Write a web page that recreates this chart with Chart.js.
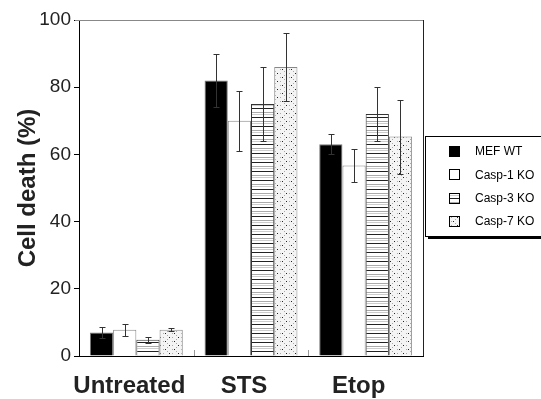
<!DOCTYPE html>
<html>
<head>
<meta charset="utf-8">
<script src="https://cdn.jsdelivr.net/npm/chart.js@4/dist/chart.umd.min.js"></script>
<style>
  html, body { margin: 0; padding: 0; background: #fff; }
  #wrap { width: 541px; height: 399px; }
</style>
</head>
<body>
<div id="wrap"><canvas id="ChartContainer" width="541" height="399"></canvas></div>
<script>
// data
var categories = ['Untreated', 'STS', 'Etop'];
var seriesNames = ['MEF WT', 'Casp-1 KO', 'Casp-3 KO', 'Casp-7 KO'];
var mefWT = [7, 82, 63];
var mefWTErr = [1.5, 8, 3];
var casp1 = [7.8, 70, 56.7];
var casp1Err = [1.8, 9, 5];
var casp3 = [4.8, 75, 72];
var casp3Err = [1, 11, 8];
var casp7 = [7.8, 86, 65.3];
var casp7Err = [0.5, 10, 11];
var yTicks = [0, 20, 40, 60, 80, 100];

var FONT = '"Liberation Sans", Arial, sans-serif';

function makePattern(w, h, draw) {
    var c = document.createElement('canvas');
    c.width = w;
    c.height = h;
    var g = c.getContext('2d');
    g.fillStyle = '#fff';
    g.fillRect(0, 0, w, h);
    draw(g);
    return document.getElementById('ChartContainer').getContext('2d').createPattern(c, 'repeat');
}

var stripes = makePattern(4, 9, function (g) {
    g.fillStyle = '#222';
    g.fillRect(0, 0, 4, 1);
    g.fillStyle = '#aaa';
    g.fillRect(0, 4, 4, 1);
    g.fillStyle = '#ccc';
    g.fillRect(0, 6, 4, 1);
});

var dots = makePattern(9, 8, function (g) {
    g.fillStyle = '#f4f4f4';
    g.fillRect(0, 0, 9, 8);
    g.fillStyle = '#aaa';
    g.fillRect(1, 1, 1, 1);
    g.fillRect(5, 3, 1, 1);
    g.fillRect(1, 5, 1, 1);
    g.fillRect(5, 7, 1, 1);
    g.fillStyle = '#222';
    g.fillRect(7, 1, 1, 1);
    g.fillRect(3, 5, 1, 1);
});

var values = [mefWT, casp1, casp3, casp7];
var errors = [mefWTErr, casp1Err, casp3Err, casp7Err];
var fills = ['#000', '#fff', stripes, dots];
var borders = ['#777', '#888', '#333', '#888'];

var datasets = [];
for (var i = 0; i < seriesNames.length; i++) {
    datasets.push({
        label: seriesNames[i],
        data: values[i],
        errors: errors[i],
        backgroundColor: fills[i],
        borderColor: borders[i],
        borderWidth: 1,
        borderSkipped: 'bottom',
        categoryPercentage: 0.81,
        barPercentage: 1.0
    });
}

// error bars drawn from the bar elements and the y scale
var errorBars = {
    id: 'errorBars',
    afterDatasetsDraw: function (chart) {
        var ctx = chart.ctx;
        var y = chart.scales.y;
        ctx.save();
        ctx.strokeStyle = '#333';
        ctx.lineWidth = 1;
        chart.data.datasets.forEach(function (ds, di) {
            chart.getDatasetMeta(di).data.forEach(function (bar, j) {
                var v = ds.data[j], e = ds.errors[j];
                var x = Math.round(bar.x) + 0.5;
                var top = Math.round(y.getPixelForValue(v + e)) + 0.5;
                var bot = Math.round(y.getPixelForValue(v - e)) + 0.5;
                ctx.beginPath();
                ctx.moveTo(x, top); ctx.lineTo(x, bot);
                ctx.moveTo(x - 3, top); ctx.lineTo(x + 3, top);
                ctx.moveTo(x - 3, bot); ctx.lineTo(x + 3, bot);
                ctx.stroke();
            });
        });
        ctx.restore();
    }
};

// frame, category separators and the boxed legend
var frame = {
    id: 'frame',
    afterDraw: function (chart) {
        var ctx = chart.ctx;
        var a = chart.chartArea;
        var xs = chart.scales.x;
        ctx.save();
        ctx.lineWidth = 1;
        ctx.strokeStyle = '#888';
        ctx.beginPath();
        ctx.moveTo(a.left - 4, a.top + 0.5);
        ctx.lineTo(a.right, a.top + 0.5);
        ctx.stroke();
        ctx.strokeStyle = '#222';
        ctx.beginPath();
        ctx.moveTo(a.right + 0.5, a.top);
        ctx.lineTo(a.right + 0.5, a.bottom);
        ctx.stroke();
        ctx.strokeStyle = '#999';
        for (var k = 0; k < categories.length - 1; k++) {
            var px = Math.round((xs.getPixelForValue(k) + xs.getPixelForValue(k + 1)) / 2) + 0.5;
            ctx.beginPath();
            ctx.moveTo(px, a.bottom);
            ctx.lineTo(px, a.bottom - 6);
            ctx.stroke();
        }

        var bx = 425, by = 136, bw = 130, bh = 100;
        ctx.fillStyle = '#000';
        ctx.fillRect(bx + 3, by + 3, bw, bh);
        ctx.fillStyle = '#fff';
        ctx.fillRect(bx, by, bw, bh);
        ctx.strokeStyle = '#000';
        ctx.strokeRect(bx + 0.5, by + 0.5, bw, bh);
        ctx.font = '12px ' + FONT;
        ctx.textBaseline = 'middle';
        chart.data.datasets.forEach(function (ds, di) {
            var cy = 151 + di * 23.3;
            ctx.fillStyle = ds.backgroundColor;
            ctx.fillRect(449, Math.round(cy - 5), 11, 11);
            ctx.strokeStyle = '#000';
            ctx.strokeRect(449.5, Math.round(cy - 5) + 0.5, 10, 10);
            ctx.fillStyle = '#000';
            ctx.fillText(ds.label, 475, cy + 1);
        });
        ctx.restore();
    }
};

new Chart(document.getElementById('ChartContainer').getContext('2d'), {
    type: 'bar',
    data: {
        labels: categories,
        datasets: datasets
    },
    options: {
        responsive: false,
        animation: false,
        devicePixelRatio: 1,
        layout: { padding: { left: 0, right: 118, top: 20, bottom: 0 } },
        plugins: {
            legend: { display: false },
            tooltip: { enabled: false }
        },
        scales: {
            x: {
                grid: { display: false, drawTicks: false },
                border: { color: '#000', width: 1 },
                ticks: {
                    color: '#222',
                    padding: 16,
                    labelOffset: -7,
                    autoSkip: false,
                    maxRotation: 0,
                    minRotation: 0,
                    font: { family: FONT, size: 24, weight: 'bold' }
                },
                afterFit: function (scale) { scale.height = 43; }
            },
            y: {
                min: 0,
                max: 100,
                afterBuildTicks: function (scale) {
                    scale.ticks = yTicks.map(function (v) { return { value: v }; });
                },
                grid: { drawOnChartArea: false, tickLength: 5, color: '#000' },
                border: { color: '#000', width: 1 },
                ticks: {
                    color: '#222',
                    padding: 3,
                    font: { family: FONT, size: 19 }
                },
                title: {
                    display: true,
                    text: 'Cell death (%)',
                    color: '#222',
                    padding: { top: 14, bottom: 0 },
                    font: { family: FONT, size: 24, weight: 'bold' }
                },
                afterFit: function (scale) { scale.width = 79; }
            }
        }
    },
    plugins: [errorBars, frame]
});
</script>
</body>
</html>
